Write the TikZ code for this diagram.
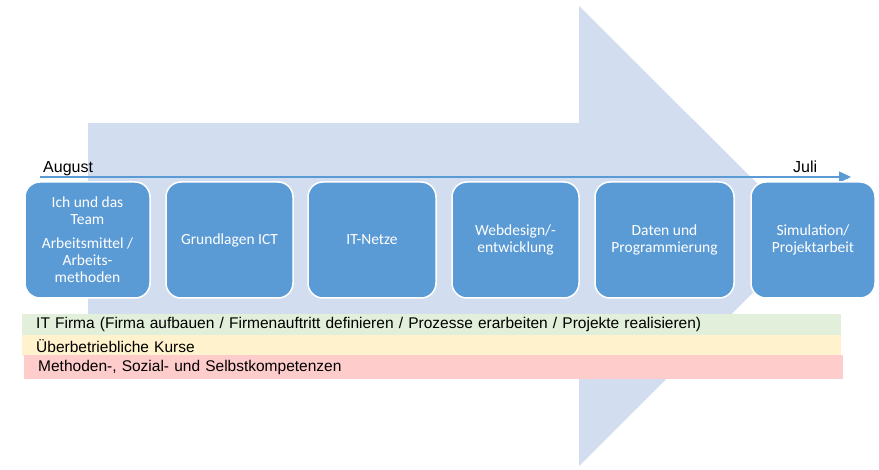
\documentclass[tikz,border=0pt]{standalone}
\usepackage{fontspec}
\setmainfont{Liberation Sans}
\newfontfamily\boxfont{Carlito}
\usetikzlibrary{arrows.meta}
\definecolor{arrowbg}{HTML}{D2DEEF}
\definecolor{boxblue}{HTML}{5B9BD5}
\definecolor{linblue}{HTML}{5B9BD5}
\definecolor{greenbar}{HTML}{E2EFDA}
\definecolor{yellowbar}{HTML}{FFF2CC}
\definecolor{redbar}{HTML}{FFCCCC}
\tikzset{
  phase/.style={draw=white, line width=1.5pt, fill=boxblue, rounded corners=15pt,
    minimum height=116pt, text=white, align=center, inner sep=2pt,
    font=\boxfont\fontsize{15.5}{17}\selectfont},
  bar/.style={anchor=north west, minimum height=21pt, inner xsep=14pt, inner ysep=0pt,
    align=left, font=\fontsize{15.5}{17}\selectfont, text=black},
  lbl/.style={font=\fontsize{16}{18}\selectfont, inner sep=0pt, anchor=base west}
}
\begin{document}
\begin{tikzpicture}[x=1pt,y=-1pt]
\useasboundingbox (0,0) rectangle (879,470);
% big background arrow
\fill[arrowbg] (88,123) -- (579,123) -- (579,6) -- (810,236) -- (579,466) -- (579,351) -- (88,351) -- cycle;
% timeline
\coordinate (tl0) at (40,177);
\coordinate (tl1) at (851,177);
\draw[linblue, line width=1.1pt, -{Triangle[length=12pt,width=11pt]}] (tl0) -- (tl1);
\node[lbl] (aug) at (43,173) {August};
\node[lbl] (jul) at (793,173) {Juli};
% phases
\node[phase, minimum width=125pt] (b1) at (87.5,240) {Ich und das\\Team\\[7pt]Arbeitsmittel /\\Arbeits-\\methoden};
\node[phase, minimum width=127pt] (b2) at (229.5,240) {Grundlagen ICT};
\node[phase, minimum width=128pt] (b3) at (372,240) {IT-Netze};
\node[phase, minimum width=127pt] (b4) at (515.5,240) {Webdesign/-\\entwicklung};
\node[phase, minimum width=139pt] (b5) at (664.5,240) {Daten und\\Programmierung};
\node[phase, minimum width=124pt] (b6) at (813,240) {Simulation/\\Projektarbeit};
% bars
\node[bar, fill=greenbar, minimum width=819pt, text width=791pt] (g) at (22,314) {IT Firma (Firma aufbauen / Firmenauftritt definieren / Prozesse erarbeiten / Projekte realisieren)};
\node[bar, fill=yellowbar, minimum width=819pt, text width=791pt] (y) at (22,335) {Überbetriebliche Kurse};
\node[bar, fill=redbar, minimum width=819pt, minimum height=24pt, text width=791pt] (r) at (24,355) {Methoden-, Sozial- und Selbstkompetenzen};
\end{tikzpicture}
\end{document}
